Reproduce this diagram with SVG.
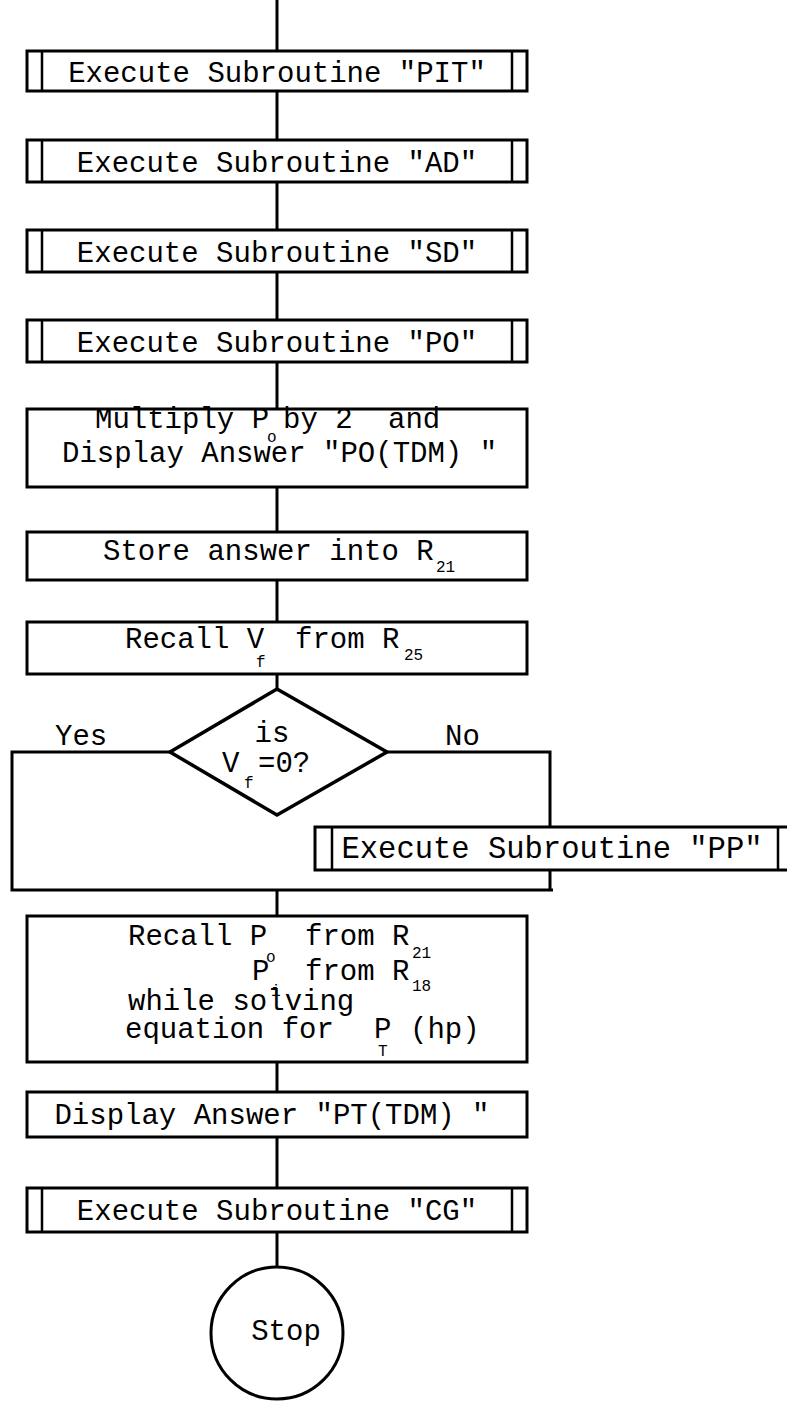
<svg xmlns="http://www.w3.org/2000/svg" width="787" height="1405" viewBox="0 0 787 1405">
<style>
.box{fill:#fff;stroke:#000;stroke-width:3}
.in{stroke:#000;stroke-width:2.5}
.c{fill:none;stroke:#000;stroke-width:3}
text{font-family:"Liberation Mono","Courier New",monospace;font-size:29px;fill:#000}
.m{text-anchor:middle}
.s{font-size:16px}
</style>
<rect width="787" height="1405" fill="#fff"/>
<g id="connectors">
<path class="c" d="M277 0V51M277 91V140M277 182V230M277 272V320M277 362V409M277 487V532M277 580V622M277 674V689M277 890V916M277 1062V1092M277 1137V1188M277 1232V1267"/>
<path class="c" d="M170 752H12V890H553M387 752H550V827M550 870V890"/>
</g>
<g id="pit"><rect class="box" x="27" y="51" width="500" height="40"/><path class="in" d="M42 51V91M512 51V91"/><text class="m" x="277" y="82">Execute Subroutine "PIT"</text></g>
<g id="ad"><rect class="box" x="27" y="140" width="500" height="42"/><path class="in" d="M42 140V182M512 140V182"/><text class="m" x="277" y="172">Execute Subroutine "AD"</text></g>
<g id="sd"><rect class="box" x="27" y="230" width="500" height="42"/><path class="in" d="M42 230V272M512 230V272"/><text class="m" x="277" y="262">Execute Subroutine "SD"</text></g>
<g id="po"><rect class="box" x="27" y="320" width="500" height="42"/><path class="in" d="M42 320V362M512 320V362"/><text class="m" x="277" y="352">Execute Subroutine "PO"</text></g>
<g id="multiply"><rect class="box" x="27" y="409" width="500" height="78"/>
<text x="95" y="428">Multiply P</text><text class="s" x="267" y="442">o</text><text x="283" y="428">by 2</text><text x="388" y="428">and</text>
<text x="62" y="462">Display Answer "PO(TDM) "</text></g>
<g id="store"><rect class="box" x="27" y="532" width="500" height="48"/><text x="103" y="560">Store answer into R</text><text class="s" x="436" y="572">21</text></g>
<g id="recallvf"><rect class="box" x="27" y="622" width="500" height="52"/><text x="125" y="648">Recall V</text><text class="s" x="256" y="667">f</text><text x="295" y="648">from R</text><text class="s" x="404" y="660">25</text></g>
<g id="decision"><polygon class="box" points="277,689 387,752 277,815 170,752" style="stroke-width:3.5"/>
<text class="m" x="272" y="742">is</text><text x="222" y="772">V</text><text class="s" x="244" y="788">f</text><text x="258" y="772">=0?</text></g>
<text x="55" y="745">Yes</text>
<text x="445" y="745">No</text>
<g id="pp"><rect class="box" x="315" y="827" width="474" height="43"/><path class="in" d="M332 827V870M778 827V870"/><text class="m" x="552" y="858" style="font-size:30.5px">Execute Subroutine "PP"</text></g>
<g id="recallp"><rect class="box" x="27" y="916" width="500" height="146"/>
<text x="128" y="945">Recall P</text><text class="s" x="266" y="962">o</text><text x="305" y="945">from R</text><text class="s" x="412" y="958">21</text>
<text x="252" y="980">P</text><text class="s" x="271" y="996">i</text><text x="305" y="980">from R</text><text class="s" x="412" y="991">18</text>
<text x="128" y="1010">while solving</text>
<text x="125" y="1038">equation for</text><text x="374" y="1038">P</text><text class="s" x="378" y="1056">T</text><text x="410" y="1038">(hp)</text></g>
<g id="display"><rect class="box" x="27" y="1092" width="500" height="45"/><text class="m" x="272" y="1124">Display Answer "PT(TDM) "</text></g>
<g id="cg"><rect class="box" x="27" y="1188" width="500" height="44"/><path class="in" d="M42 1188V1232M512 1188V1232"/><text class="m" x="277" y="1220">Execute Subroutine "CG"</text></g>
<g id="stop"><circle class="box" cx="277" cy="1333" r="66"/><text class="m" x="286" y="1340">Stop</text></g>
</svg>
